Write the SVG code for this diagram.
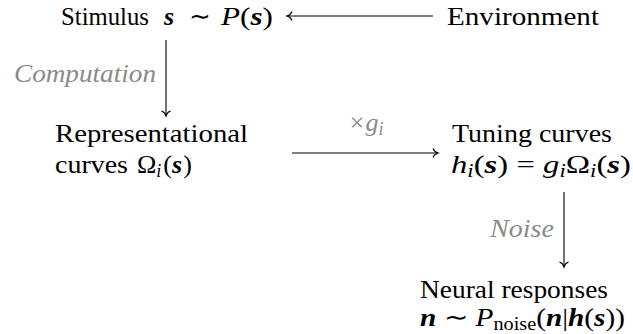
<svg xmlns="http://www.w3.org/2000/svg" width="633" height="334" viewBox="0 0 633 334">
<style>
text{font-family:"Liberation Serif","Times New Roman",serif;font-size:26px;fill:#000}
.it{font-style:italic}
.bi{font-style:italic;font-weight:bold}
.gray{fill:#8a8a8a;font-style:italic}
.sub{font-size:18px}
.conn{stroke:#000;stroke-width:1.1;fill:none}
</style>
<defs>
<marker id="to" markerUnits="userSpaceOnUse" markerWidth="12" markerHeight="12" refX="0" refY="0" orient="auto" overflow="visible" viewBox="-6 -6 12 12">
<path d="M-5,-4.5 C-4,-1.8 -1.5,-0.4 0,0 C-1.5,0.4 -4,1.8 -5,4.5" fill="none" stroke="#000" stroke-width="1.1"/>
</marker>
</defs>
<rect width="633" height="334" fill="#fff"/>
<g id="connectors">
<line class="conn" x1="433" y1="16" x2="287" y2="16" marker-end="url(#to)"/>
<line class="conn" x1="166" y1="40" x2="166" y2="116" marker-end="url(#to)"/>
<line class="conn" x1="292" y1="153" x2="438" y2="153" marker-end="url(#to)"/>
<line class="conn" x1="564" y1="192" x2="564" y2="267" marker-end="url(#to)"/>
<text class="gray" x="156" y="82" text-anchor="end" textLength="142" lengthAdjust="spacingAndGlyphs">Computation</text>
<text class="gray" x="348" y="131">×<tspan class="it">g</tspan><tspan class="sub it" dy="4">i</tspan></text>
<text class="gray" x="554" y="237" text-anchor="end" textLength="64" lengthAdjust="spacingAndGlyphs">Noise</text>
</g>
<g id="stimulus">
<text x="61" y="25" textLength="88" lengthAdjust="spacingAndGlyphs">Stimulus</text>
<text x="164" y="25" class="bi">s</text>
<text x="189" y="25">∼</text>
<text x="221" y="25" textLength="52" lengthAdjust="spacingAndGlyphs"><tspan class="it">P</tspan>(<tspan class="bi">s</tspan>)</text>
</g>
<g id="environment">
<text x="447" y="25" textLength="152" lengthAdjust="spacingAndGlyphs">Environment</text>
</g>
<g id="representational">
<text x="55" y="142" textLength="193" lengthAdjust="spacingAndGlyphs">Representational</text>
<text x="55" y="173"><tspan textLength="73" lengthAdjust="spacingAndGlyphs">curves</tspan><tspan x="137">Ω</tspan><tspan class="sub it" dy="4">i</tspan><tspan dy="-4" dx="2">(</tspan><tspan class="bi">s</tspan><tspan dx="1">)</tspan></text>
</g>
<g id="tuning">
<text x="452" y="142" textLength="160" lengthAdjust="spacingAndGlyphs">Tuning curves</text>
<text x="451" y="173" textLength="180" lengthAdjust="spacingAndGlyphs"><tspan class="it">h</tspan><tspan class="sub it" dy="4">i</tspan><tspan dy="-4">(</tspan><tspan class="bi">s</tspan>) = <tspan class="it">g</tspan><tspan class="sub it" dy="4">i</tspan><tspan dy="-4">Ω</tspan><tspan class="sub it" dy="4">i</tspan><tspan dy="-4">(</tspan><tspan class="bi">s</tspan>)</text>
</g>
<g id="neural">
<text x="420" y="298" textLength="188" lengthAdjust="spacingAndGlyphs">Neural responses</text>
<text x="420" y="326" textLength="205" lengthAdjust="spacingAndGlyphs"><tspan class="bi">n</tspan> ∼ <tspan class="it">P</tspan><tspan class="sub" dy="4">noise</tspan><tspan dy="-4">(</tspan><tspan class="bi">n</tspan>|<tspan class="bi">h</tspan>(<tspan class="bi">s</tspan>))</text>
</g>
</svg>
